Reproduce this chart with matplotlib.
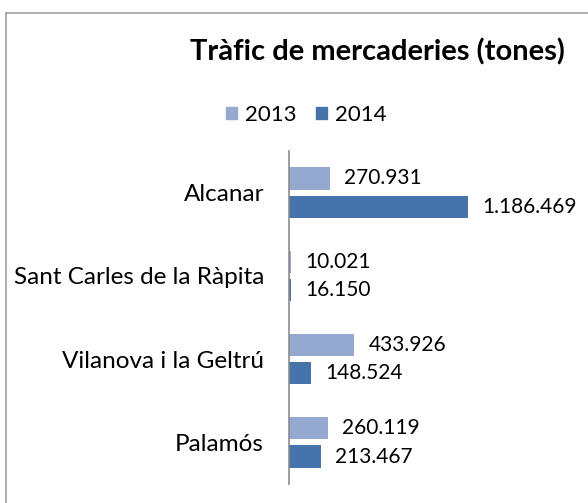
import matplotlib
matplotlib.use("Agg")
import matplotlib.pyplot as plt
import numpy as np
from matplotlib.lines import Line2D
from matplotlib.patches import Patch

plt.rcParams['font.family'] = ['Lato', 'DejaVu Sans']

# --- data ---
ports = ['Alcanar', 'Sant Carles de la Ràpita', 'Vilanova i la Geltrú', 'Palamós']
tones_2013 = [270931, 10021, 433926, 260119]
tones_2014 = [1186469, 16150, 148524, 213467]
years = ['2013', '2014']
colors = ['#94A8D0', '#4673AA']


def fmt(v):
    return f"{v:,}".replace(",", ".")


fig = plt.figure(figsize=(5.88, 5.03), dpi=100)

# chart frame (right and bottom edges are cut off in the original)
fig.add_artist(Line2D([6 / 588, 6 / 588], [0, 1 - 13 / 503], color='#A0A0A0', lw=1.2))
fig.add_artist(Line2D([6 / 588, 1], [1 - 13 / 503, 1 - 13 / 503], color='#A0A0A0', lw=1.2))

ax = fig.add_axes([289 / 588, 1 - 484 / 503, 241 / 588, 333 / 503])

y = np.arange(len(ports))
h = 0.265
off = 0.17
ax.barh(y - off, tones_2013, height=h, color=colors[0])
ax.barh(y + off, tones_2014, height=h, color=colors[1])

for yi, v in zip(y, tones_2013):
    ax.text(v + 95000, yi - off, fmt(v), va='center', ha='left', fontsize=15)
for yi, v in zip(y, tones_2014):
    ax.text(v + 95000, yi + off, fmt(v), va='center', ha='left', fontsize=15)

ax.set_xlim(0, 1.6e6)
ax.set_ylim(len(ports) - 0.5, -0.5)
ax.set_yticks(y)
ax.set_yticklabels(ports, fontsize=17.5)
ax.tick_params(axis='y', length=0, pad=18)
ax.set_xticks([])
for s in ['top', 'right', 'bottom']:
    ax.spines[s].set_visible(False)
ax.spines['left'].set_color('#8C8C8C')
ax.spines['left'].set_linewidth(1.2)

fig.text(377 / 588, 1 - 52 / 503, 'Tràfic de mercaderies (tones)', ha='center', va='center',
         fontsize=21, fontweight='bold')

handles = [Patch(color=c) for c in colors]
fig.legend(handles, years, loc='center', bbox_to_anchor=(306 / 588, 1 - 115 / 503), ncol=2,
           frameon=False, fontsize=16, handlelength=0.5, handleheight=0.5,
           handletextpad=0.35, columnspacing=0.9)

fig.savefig('out.png', dpi=100)
